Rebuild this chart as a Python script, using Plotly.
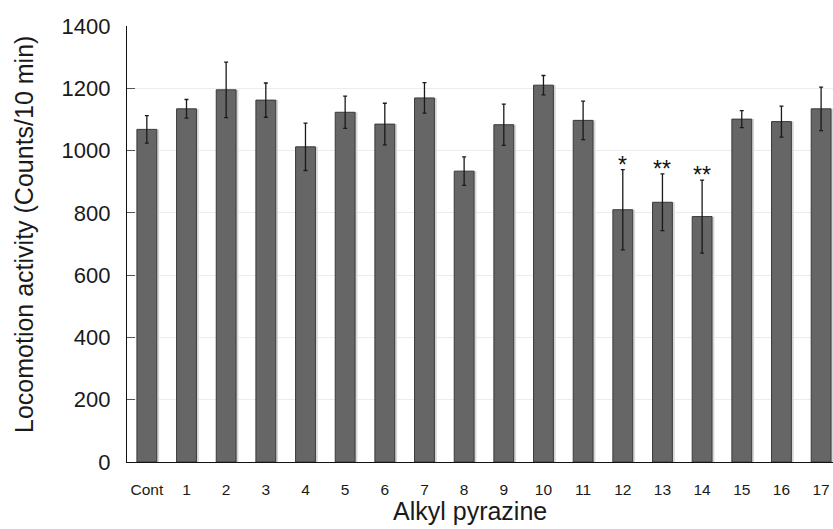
import plotly.graph_objects as go

categories = ["Cont", "1", "2", "3", "4", "5", "6", "7", "8", "9", "10",
              "11", "12", "13", "14", "15", "16", "17"]
values = [1068, 1134, 1195, 1162, 1012, 1123, 1085, 1169, 934, 1083, 1210,
          1097, 810, 834, 788, 1101, 1093, 1134]
errors = [44, 30, 89, 55, 76, 52, 67, 49, 46, 66, 31,
          62, 129, 91, 117, 27, 50, 70]
significance = ["", "", "", "", "", "", "", "", "", "", "",
                "", "*", "**", "**", "", "", ""]
y_ticks = [0, 200, 400, 600, 800, 1000, 1200, 1400]

FONT = "Liberation Sans, Arial, Helvetica, sans-serif"
xs = list(range(len(categories)))

fig = go.Figure()
# soft shadow behind bars
fig.add_trace(go.Bar(
    x=xs, y=values, width=0.5, offset=-0.25 + 0.06,
    marker=dict(color="#d6d6d6", line=dict(width=0)),
    hoverinfo="skip", showlegend=False,
))
fig.add_trace(go.Bar(
    x=xs, y=values, width=0.5, offset=-0.25,
    marker=dict(color="#666666", line=dict(color="#3a3a3a", width=1)),
    error_y=dict(type="data", array=errors, visible=True,
                 color="#1a1a1a", thickness=1.3, width=2),
    showlegend=False,
))

for i, (v, e, s) in enumerate(zip(values, errors, significance)):
    if s:
        fig.add_annotation(x=i, y=v + e, text=s, showarrow=False,
                           xref="x", yref="y", yanchor="bottom", yshift=-10,
                           font=dict(family=FONT, size=23, color="#111111"))

fig.add_annotation(x=0, y=0.5, xref="paper", yref="paper", xshift=-103, yshift=9,
                   text="Locomotion activity (Counts/10 min)", textangle=-90,
                   showarrow=False, xanchor="center", yanchor="middle",
                   font=dict(family=FONT, size=25, color="#1a1a1a"))
fig.add_annotation(x=(470 - 127) / 706, y=0, xref="paper", yref="paper", yshift=-49,
                   text="Alkyl pyrazine", showarrow=False,
                   xanchor="center", yanchor="middle",
                   font=dict(family=FONT, size=25, color="#1a1a1a"))

fig.update_layout(
    width=833, height=529,
    margin=dict(l=127, r=0, t=26, b=67),
    plot_bgcolor="white", paper_bgcolor="white",
    barmode="overlay",
    xaxis=dict(
        range=[-0.5, 17.3],
        tickmode="array", tickvals=xs, ticktext=categories,
        showline=True, linecolor="#111111", linewidth=1.3,
        showgrid=False, ticks="", zeroline=False,
        tickfont=dict(family=FONT, size=15.5, color="#1a1a1a"),
        ticklabelstandoff=13,
    ),
    yaxis=dict(
        range=[0, 1400],
        tickmode="array", tickvals=y_ticks,
        showline=True, linecolor="#111111", linewidth=1.3,
        showgrid=True, gridcolor="#ececec", gridwidth=1,
        ticks="inside", ticklen=8, tickcolor="#555555", tickwidth=1.2,
        zeroline=False,
        tickfont=dict(family=FONT, size=22, color="#1a1a1a"),
        ticklabelstandoff=11,
    ),
)

fig.write_html("out.html")
